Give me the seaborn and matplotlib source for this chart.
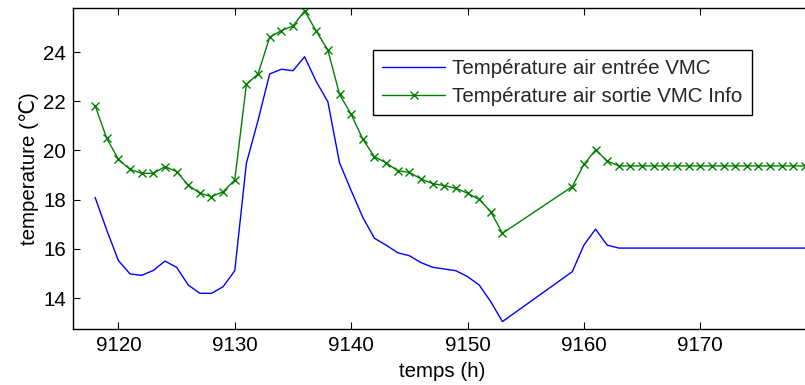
import matplotlib
matplotlib.use("Agg")
import matplotlib.pyplot as plt
import seaborn as sns
import pandas as pd

hours = [9118, 9119, 9120, 9121, 9122, 9123, 9124, 9125, 9126, 9127, 9128, 9129,
         9130, 9131, 9132, 9133, 9134, 9135, 9136, 9137, 9138, 9139, 9140, 9141,
         9142, 9143, 9144, 9145, 9146, 9147, 9148, 9149, 9150, 9151, 9152, 9153,
         9159, 9160, 9161, 9162, 9163, 9164, 9165, 9166, 9167, 9168, 9169, 9170,
         9171, 9172, 9173, 9174, 9175, 9176, 9177, 9178, 9179]

temp_entree = [18.09, 16.76, 15.52, 14.98, 14.92, 15.12, 15.50, 15.25, 14.53, 14.19,
               14.19, 14.46, 15.11, 19.48, 21.22, 23.11, 23.30, 23.24, 23.81, 22.80,
               21.98, 19.50, 18.37, 17.28, 16.43, 16.15, 15.84, 15.72, 15.44, 15.25,
               15.18, 15.11, 14.87, 14.53, 13.85, 13.04, 15.07, 16.15, 16.80, 16.15,
               16.03, 16.03, 16.03, 16.03, 16.03, 16.03, 16.03, 16.03, 16.03, 16.03,
               16.03, 16.03, 16.03, 16.03, 16.03, 16.03, 16.03]

temp_sortie = [21.82, 20.49, 19.64, 19.23, 19.07, 19.07, 19.34, 19.14, 18.59, 18.26,
               18.12, 18.32, 18.80, 22.69, 23.11, 24.60, 24.87, 25.06, 25.67, 24.85,
               24.08, 22.28, 21.47, 20.46, 19.74, 19.50, 19.17, 19.11, 18.84, 18.65,
               18.57, 18.46, 18.26, 18.01, 17.51, 16.63, 18.53, 19.43, 20.02, 19.57,
               19.37, 19.37, 19.37, 19.37, 19.37, 19.37, 19.37, 19.37, 19.37, 19.37,
               19.37, 19.37, 19.37, 19.37, 19.37, 19.37, 19.37]

label_entree = "Température air entrée VMC"
label_sortie = "Température air sortie VMC Info"
x_ticks = [9120, 9130, 9140, 9150, 9160, 9170]
y_ticks = [14, 16, 18, 20, 22, 24]

df = pd.DataFrame({"temps": hours, "entree": temp_entree, "sortie": temp_sortie})

sns.set_theme(style="white")
plt.rcParams["font.family"] = ["Liberation Sans", "DejaVu Sans"]

FS = 14.8

fig = plt.figure(figsize=(8.05, 3.85), dpi=100)
ax = fig.add_axes([73 / 805, 56 / 385, (812 - 73) / 805, (329 - 8) / 385])

sns.lineplot(data=df, x="temps", y="entree", ax=ax, color="#0000ff", linewidth=1.0,
             label=label_entree)
sns.lineplot(data=df, x="temps", y="sortie", ax=ax, color="#008000", linewidth=1.0,
             marker="x", markersize=6, markeredgewidth=1.0, markeredgecolor="#008000",
             label=label_sortie)

ax.set_xlim(9116.1, 9179.6)
ax.set_ylim(12.74, 25.79)
ax.set_xticks(x_ticks)
ax.set_yticks(y_ticks)
ax.tick_params(direction="in", length=5, width=0.8, color="black", labelsize=FS,
               top=True, bottom=True, left=True, right=True, pad=5, labelcolor="black")
for s in ax.spines.values():
    s.set_color("black")
    s.set_linewidth(1.0)
    s.set_visible(True)

ax.set_xlabel("temps (h)", fontsize=FS, color="black", labelpad=5)
ax.set_ylabel("temperature (\u2103)", fontsize=FS, color="black", labelpad=3)

leg = ax.legend(loc="upper left", bbox_to_anchor=((373 - 73) / 739, (329 - 50) / 321),
                borderaxespad=0, fontsize=FS, frameon=True, fancybox=False,
                edgecolor="black", framealpha=1, handlelength=3.05, borderpad=0.45,
                labelspacing=0.42, handletextpad=0.35)
leg.get_frame().set_linewidth(1.0)

fig.savefig("out.png", dpi=100)
